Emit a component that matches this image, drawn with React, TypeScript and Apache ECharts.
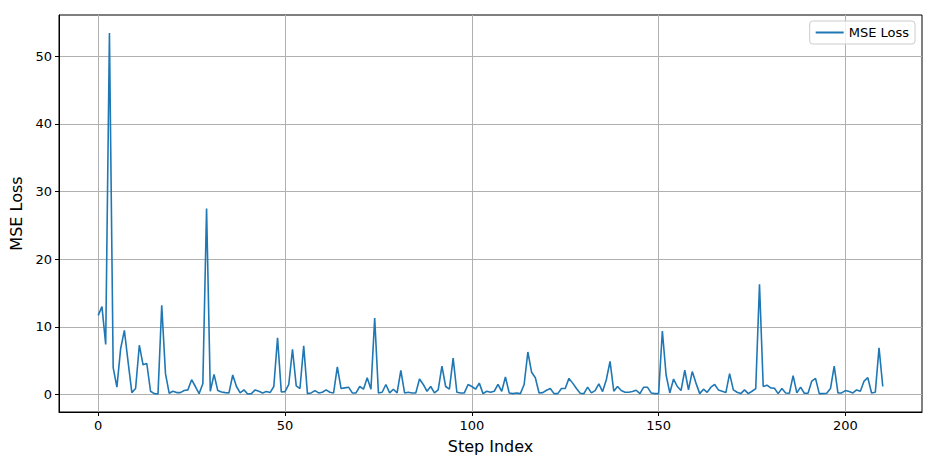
import React, { useEffect, useRef } from "react";
import * as echarts from "echarts";

const seriesName = "MSE Loss";
const xTicks = [0, 50, 100, 150, 200];
const yTicks = [0, 10, 20, 30, 40, 50];
const lossValues = [
  11.7, 13.0, 7.4, 53.4, 4.0, 1.1, 6.8, 9.5, 4.8, 0.3,
  0.9, 7.3, 4.4, 4.6, 0.5, 0.15, 0.1, 13.2, 3.1, 0.2,
  0.5, 0.3, 0.3, 0.6, 0.7, 2.2, 1.2, 0.15, 1.6, 27.5,
  0.5, 3.0, 0.6, 0.4, 0.3, 0.25, 2.9, 1.2, 0.25, 0.7,
  0.1, 0.15, 0.7, 0.5, 0.25, 0.45, 0.3, 1.2, 8.4, 0.4,
  0.45, 1.5, 6.7, 1.3, 0.9, 7.2, 0.15, 0.25, 0.6, 0.25,
  0.35, 0.7, 0.35, 0.25, 4.1, 0.9, 1.0, 1.1, 0.25, 0.25,
  1.2, 0.8, 2.5, 0.8, 11.3, 0.25, 0.35, 1.5, 0.25, 0.8,
  0.25, 3.6, 0.25, 0.35, 0.25, 0.25, 2.3, 1.5, 0.5, 1.2,
  0.25, 0.7, 4.2, 1.2, 0.8, 5.4, 0.35, 0.25, 0.25, 1.5,
  1.2, 0.8, 1.7, 0.15, 0.5, 0.35, 0.5, 1.5, 0.5, 2.6,
  0.25, 0.15, 0.25, 0.15, 1.5, 6.3, 3.3, 2.5, 0.25, 0.3,
  0.65, 0.9, 0.15, 0.15, 0.9, 0.9, 2.4, 1.7, 0.9, 0.2,
  0.15, 1.1, 0.25, 0.6, 1.6, 0.45, 2.2, 4.9, 0.5, 1.2,
  0.6, 0.35, 0.35, 0.45, 0.65, 0.15, 1.1, 1.1, 0.25, 0.15,
  0.15, 9.4, 2.9, 0.25, 2.3, 1.2, 0.6, 3.6, 0.7, 3.4,
  1.7, 0.15, 0.8, 0.35, 1.1, 1.5, 0.7, 0.5, 0.3, 3.1,
  0.7, 0.35, 0.15, 0.7, 0.15, 0.5, 0.9, 16.3, 1.2, 1.4,
  1.0, 0.95, 0.15, 0.9, 0.25, 0.2, 2.8, 0.25, 1.1, 0.2,
  0.2, 2.0, 2.4, 0.15, 0.15, 0.2, 0.9, 4.2, 0.25, 0.25,
  0.6, 0.45, 0.25, 0.7, 0.5, 2.0, 2.5, 0.25, 0.35, 6.9,
  1.2,
];

const font = "'DejaVu Sans', sans-serif";

export default function App() {
  const ref = useRef<HTMLDivElement>(null);
  useEffect(() => {
    if (!ref.current) return;
    const chart = echarts.init(ref.current, undefined, { renderer: "svg" });
    const data = lossValues.map((v, i) => [i, v]);
    const n = lossValues.length - 1;
    const ymaxV = Math.max(...lossValues);
    const yminV = Math.min(...lossValues);
    const yPad = (ymaxV - yminV) * 0.05;
    chart.setOption({
      animation: false,
      backgroundColor: "#ffffff",
      grid: {
        left: 59,
        right: 14,
        top: 15,
        bottom: 56,
        show: true,
        borderColor: "#000000",
        borderWidth: 1,
        backgroundColor: "transparent",
      },
      legend: {
        show: true,
        data: [seriesName],
        right: 21,
        top: 21,
        orient: "vertical",
        backgroundColor: "rgba(255,255,255,0.8)",
        borderColor: "#cccccc",
        borderWidth: 1,
        borderRadius: 3,
        padding: [5, 6, 5, 6],
        itemWidth: 28,
        itemHeight: 2,
        itemGap: 6,
        icon: "rect",
        textStyle: { fontFamily: font, fontSize: 13, color: "#000000" },
      },
      xAxis: {
        type: "value",
        min: -n * 0.05,
        max: n * 1.05,
        name: "Step Index",
        nameLocation: "middle",
        nameGap: 26,
        nameTextStyle: { fontFamily: font, fontSize: 16, color: "#000000" },
        axisLine: { show: true, onZero: false, lineStyle: { color: "#000000", width: 1 } },
        axisTick: {
          show: true,
          inside: false,
          length: 4,
          customValues: xTicks,
          lineStyle: { color: "#000000", width: 1 },
        },
        axisLabel: {
          customValues: xTicks,
          fontFamily: font,
          fontSize: 13,
          color: "#000000",
          margin: 7,
        },
        splitLine: { show: true, lineStyle: { color: "#b0b0b0", width: 1 } },
      },
      yAxis: {
        type: "value",
        min: yminV - yPad,
        max: ymaxV + yPad,
        name: "MSE Loss",
        nameLocation: "middle",
        nameGap: 31,
        nameTextStyle: { fontFamily: font, fontSize: 16, color: "#000000" },
        axisLine: { show: true, onZero: false, lineStyle: { color: "#000000", width: 1 } },
        axisTick: {
          show: true,
          inside: false,
          length: 4,
          customValues: yTicks,
          lineStyle: { color: "#000000", width: 1 },
        },
        axisLabel: {
          customValues: yTicks,
          fontFamily: font,
          fontSize: 13,
          color: "#000000",
          margin: 7,
        },
        splitLine: { show: true, lineStyle: { color: "#b0b0b0", width: 1 } },
      },
      series: [
        {
          name: seriesName,
          type: "line",
          data,
          showSymbol: false,
          symbol: "none",
          lineStyle: { color: "#1f77b4", width: 1.6 },
          itemStyle: { color: "#1f77b4" },
        },
      ],
    });
    return () => chart.dispose();
  }, []);
  return (
    <div
      ref={ref}
      style={{ position: "fixed", left: 0, top: 0, width: 936, height: 468, background: "#fff" }}
    />
  );
}
